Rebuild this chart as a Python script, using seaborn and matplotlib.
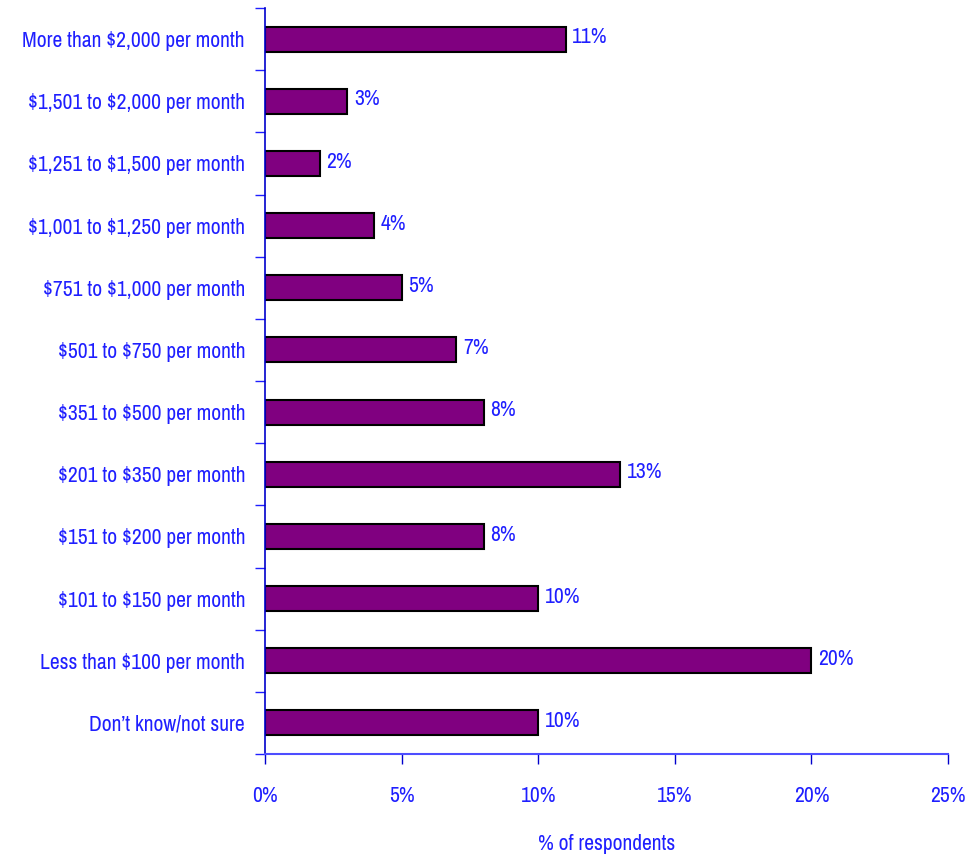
import matplotlib
matplotlib.use("Agg")
import matplotlib.pyplot as plt
import seaborn as sns
import pandas as pd
from matplotlib import font_manager
from matplotlib.textpath import TextPath
from matplotlib.font_manager import FontProperties

categories = [
    "More than $2,000 per month",
    "$1,501 to $2,000 per month",
    "$1,251 to $1,500 per month",
    "$1,001 to $1,250 per month",
    "$751 to $1,000 per month",
    "$501 to $750 per month",
    "$351 to $500 per month",
    "$201 to $350 per month",
    "$151 to $200 per month",
    "$101 to $150 per month",
    "Less than $100 per month",
    "Don\u2019t know/not sure",
]
values = [11, 3, 2, 4, 5, 7, 8, 13, 8, 10, 20, 10]
xticks = [0, 5, 10, 15, 20, 25]

names = {f.name for f in font_manager.fontManager.ttflist}
prefs = ["Liberation Sans Narrow", "Arimo Narrow", "Archivo Narrow", "Roboto Condensed",
         "PT Sans Narrow", "Open Sans Condensed", "Liberation Sans"]
fam = next((p for p in prefs if p in names), "DejaVu Sans")

sns.set_theme(style="white")
plt.rcParams["font.family"] = [fam, "DejaVu Sans"]
plt.rcParams["text.parse_math"] = False

# pick a font size so the longest label is about as wide as in the reference
tp = TextPath((0, 0), categories[0], size=10, prop=FontProperties(family=fam))
w10 = tp.get_extents().width * 100 / 72.0
fs = min(15.5, 10 * 249.0 / w10)

blue = "#1f1fff"
df = pd.DataFrame({"cat": categories, "val": values})

fig = plt.figure(figsize=(9.73, 8.56), dpi=100)
ax = fig.add_axes([265/973, 1-754/856, (948-265)/973, (754-8)/856])
sns.barplot(data=df, x="val", y="cat", orient="h", color="#800080",
            edgecolor="black", linewidth=1.5, width=0.4, saturation=1, ax=ax)

ax.set_xlim(0, 25)
ax.set_ylim(len(categories)-0.5, -0.5)
ax.set_xticks(xticks)
ax.set_xticklabels([f"{t}%" for t in xticks])
ax.set_yticks(range(len(categories)))
ax.set_yticklabels(categories)
ax.set_yticks([i-0.5 for i in range(len(categories)+1)], minor=True)
ax.tick_params(axis="y", which="major", length=0, pad=14.4, labelsize=fs, labelcolor=blue)
ax.tick_params(axis="y", which="minor", length=7, width=1, color=blue, direction="out", left=True)
ax.tick_params(axis="x", length=7, width=1, color="#0000cc", direction="out", pad=16,
               labelsize=fs, labelcolor=blue, bottom=True)

for s in ["top", "right"]:
    ax.spines[s].set_visible(False)
ax.spines["left"].set_color("#0000cc")
ax.spines["left"].set_linewidth(1.2)
ax.spines["bottom"].set_color("#4d4dff")
ax.spines["bottom"].set_linewidth(1.5)

for i, v in enumerate(values):
    ax.text(v + 0.25, i - 0.03, f"{v}%", va="center", ha="left", fontsize=fs, color=blue)

ax.set_xlabel("% of respondents", fontsize=fs, color=blue, labelpad=20)
ax.set_ylabel("")

fig.savefig("out.png", dpi=100)
